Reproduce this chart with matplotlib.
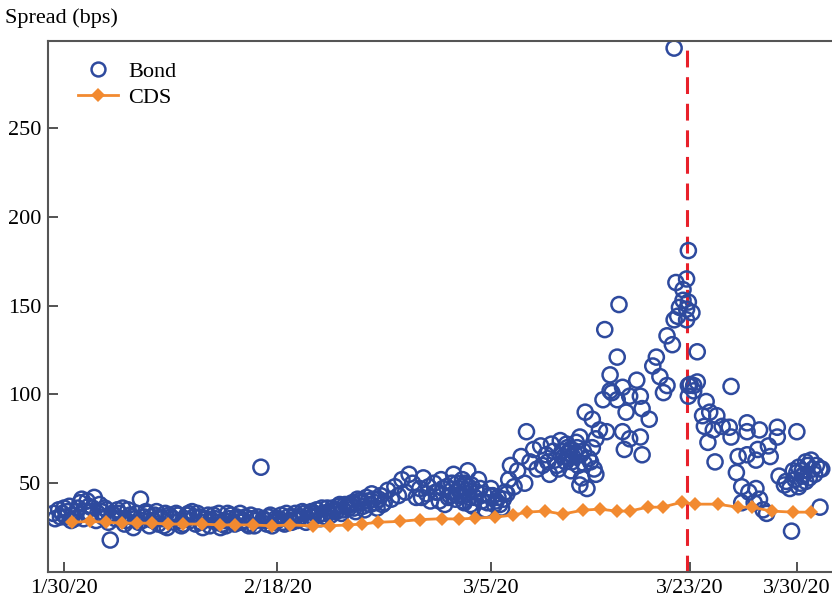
import matplotlib
matplotlib.use("Agg")
import matplotlib.pyplot as plt
from matplotlib.lines import Line2D

plt.rcParams["font.family"] = ["Liberation Serif", "DejaVu Serif"]

# x positions are in trading-day units from 1/30/20 (as laid out on the chart)
tick_pos = [0, 12, 24, 35.2, 41.2]
tick_labels = ["1/30/20", "2/18/20", "3/5/20", "3/23/20", "3/30/20"]
event_day = 35.0

cds_x = [0.45, 1.46, 2.36, 3.26, 4.1, 4.94, 5.84, 6.69, 7.75, 8.76, 9.6, 10.62,
         11.69, 12.7, 13.99, 14.94, 15.96, 16.74, 17.64, 18.88, 20.0, 21.24,
         22.19, 23.09, 24.21, 25.22, 26.01, 27.02, 28.03, 29.16, 30.11, 31.07,
         31.8, 32.81, 33.65, 34.72, 35.45, 36.74, 37.87, 38.65, 39.78, 40.96, 42.02]
cds_y = [28, 28.5, 28, 27.5, 27.5, 27.5, 27, 27, 27, 26.5, 26.5, 26.5,
         26, 26.5, 26, 26, 26.5, 27, 28, 28.5, 29.5, 30,
         29.8, 30.3, 30.9, 32, 33.7, 34.3, 32.6, 34.8, 35.4, 34.3,
         34.3, 36.5, 36.5, 39.3, 38.2, 38.2, 36.5, 36.5, 34.3, 33.7, 33.7]

bond_x = [
    -0.6, -0.3, -0.2, 0.0, 0.1, 0.3, 0.4,
    0.7, 0.9, 1.0, 1.1, 1.2, 1.3, 1.5, 1.6, 1.7, 1.8,
    2.0, 2.1, 2.2, 2.3, 2.5, 2.6, 2.7, 2.9,
    3.0, 3.2, 3.4, 3.6, 3.8, 3.9,
    4.1, 4.3, 4.4, 4.6, 4.8, 4.9,
    5.1, 5.3, 5.5, 5.7, 5.8,
    6.0, 6.2, 6.4, 6.6, 6.8,
    7.0, 7.2, 7.4, 7.6, 7.8,
    8.0, 8.2, 8.4, 8.6, 8.8,
    9.0, 9.2, 9.4, 9.6, 9.8,
    10.0, 10.2, 10.4, 10.6, 10.8,
    11.07, 11.2, 11.4, 11.6, 11.8,
    12.0, 12.2, 12.4, 12.6, 12.8,
    13.0, 13.2, 13.4, 13.6, 13.8,
    14.0, 14.2, 14.4, 14.6, 14.8,
    15.0, 15.2, 15.4, 15.6, 15.8,
    16.0, 16.2, 16.4, 16.6, 16.8,
    17.0, 17.2, 17.4, 17.6, 17.8,
    18.0, 18.2, 18.4, 18.6, 18.8,
    19.0, 19.2, 19.4, 19.6, 19.8,
    20.0, 20.2, 20.4, 20.6, 20.8,
    21.0, 21.2, 21.4, 21.5, 21.7, 21.9,
    22.0, 22.1, 22.2, 22.3, 22.4, 22.5, 22.6, 22.7, 22.8, 22.9,
    23.0, 23.2, 23.3, 23.5, 23.7, 23.9,
    24.0, 24.2, 24.4, 24.6, 24.8,
    25.0, 25.1, 25.3, 25.5, 25.7, 25.9,
    26.0, 26.2, 26.4, 26.6, 26.8, 26.9,
    27.1, 27.3, 27.4, 27.6, 27.8, 27.9,
    28.0, 28.2, 28.3, 28.4, 28.5, 28.6, 28.8, 28.9,
    29.0, 29.1, 29.3, 29.4, 29.5, 29.7, 29.8, 29.6, 29.2, 29.9, 29.0,
    29.7, 30.1, 30.5, 29.9,
    30.4, 31.2, 31.1, 30.7, 30.7, 30.3,
    30.8, 31.1, 31.4, 31.8, 32.2, 32.4, 32.5, 32.9, 31.6,
    31.4, 31.8, 31.5, 32.4, 32.5,
    33.1, 33.3, 33.5, 33.7, 33.9, 33.9, 34.2,
    34.3, 34.5, 34.6, 34.8, 35.0,
    34.4, 34.8, 35.0, 35.1, 35.0, 35.3,
    35.1, 34.3, 35.6, 35.1, 35.4,
    35.2, 35.6, 35.4, 35.1, 37.5, 36.1,
    35.9, 36.3, 36.7, 36.0, 36.5, 36.2,
    37.0, 37.4, 37.5, 38.4, 38.4, 39.1, 40.1, 40.1, 41.2,
    36.6, 37.9, 37.8, 38.4, 39.0, 39.6, 39.7, 38.9,
    38.1, 38.5, 38.9, 39.1, 38.1, 38.8, 39.3, 39.5,
    40.2, 40.6, 40.8, 41.2, 41.5, 41.7, 42.1, 42.5, 41.3, 41.7, 41.1,
    42.5, 40.9, 42.6, 42.0, 41.8, 42.2, 41.4, 40.5, 41.0,
]
bond_y = [
    33, 35, 31, 36, 31, 37, 29,
    34, 39, 41, 30, 34, 40, 32, 36, 42, 29,
    38, 34, 31, 36, 28, 18, 33, 30,
    35, 30, 27, 35, 31, 25,
    33, 41, 29, 34, 26, 31,
    32, 27, 30, 33, 25,
    31, 28, 32, 26, 30,
    33, 34, 27, 31, 25,
    30, 26, 32, 28, 25,
    29, 33, 32, 27, 30,
    28, 31, 26, 30, 29,
    59, 30, 27, 32, 28,
    29, 32, 27, 31, 28,
    33, 30, 34, 28, 32,
    31, 35, 30, 33, 36,
    32, 35, 37, 33, 38,
    36, 39, 34, 40, 37,
    42, 38, 41, 36, 43,
    39, 46, 41, 48, 43,
    52, 45, 55, 50, 42,
    47, 53, 44, 40, 50,
    45, 52, 38, 48, 43, 55,
    41, 50, 47, 44, 52, 39, 46, 57, 42, 49,
    37, 45, 52, 40, 35, 43,
    47, 38, 42, 36, 45,
    52, 60, 48, 57, 65, 50,
    79, 62, 69, 58, 71, 60,
    66, 55, 72, 63, 58, 74,
    68, 62, 70, 67, 57, 65, 73, 60,
    76, 53, 90, 47, 64, 70, 58, 62, 68, 55, 49,
    86, 80, 79, 75,
    136.5, 150.6, 121, 111, 102, 97,
    101, 97, 104, 99, 108, 99, 92, 86, 90,
    79, 75, 69, 76, 66,
    116, 121, 110, 101, 105, 133, 128,
    142, 144, 149, 153, 142,
    163, 159, 165, 152, 148, 146,
    181, 295, 124, 105, 105,
    105.6, 107, 102, 99, 104.5, 96,
    88, 90, 88, 82, 80, 73,
    82, 81.5, 76, 84, 79, 80, 81.5, 76, 79,
    62, 65, 56, 66, 69, 71, 65, 63,
    48, 45, 47, 41, 39, 39, 35, 33,
    54, 51, 47, 56, 54, 62, 58, 58, 48, 51, 52,
    36.5, 23, 58, 63, 60, 55, 50, 49, 57,
]

# extra bonds in the densest parts of the cloud
dense_x = [
    -0.5, -0.1, 0.2, 0.5, 0.6, 0.8, 1.4, 1.9, 2.4, 2.8, 3.1, 3.3, 3.5, 3.7,
    4.0, 4.2, 4.5, 4.7, 5.0, 5.2, 5.4, 5.6, 5.9, 6.1, 6.3, 6.5, 6.7, 6.9,
    7.1, 7.3, 7.5, 7.7, 7.9, 8.1, 8.3, 8.5, 8.7, 8.9, 9.1, 9.3, 9.5, 9.7,
    9.9, 10.1, 10.3, 10.5, 10.7, 10.9, 11.3, 11.5, 11.7, 11.9, 12.1, 12.3,
    12.5, 12.7, 12.9, 13.1, 13.3, 13.5, 13.7, 13.9, 14.1, 14.3, 14.5, 14.7,
    14.9, 15.1, 15.3, 15.5, 15.7, 15.9, 16.1, 16.3, 16.5, 16.7, 16.9, 17.1,
    17.3, 17.5, 17.7, 17.9,
    20.1, 20.5, 20.9, 21.1, 21.3, 21.6, 21.8, 22.05, 22.15, 22.35, 22.45,
    22.55, 22.65, 22.75, 22.85, 23.1, 23.4, 23.6, 23.8, 24.1, 24.3, 24.5,
    24.7, 24.9,
    27.2, 27.5, 27.7, 28.1, 28.25, 28.35, 28.45, 28.55, 28.7, 28.85, 29.05,
    29.25,
    41.5, 41.9, 41.6, 41.3, 42.3,
]
dense_y = [
    30, 33, 34, 32, 30, 36, 37, 33, 35, 32, 33, 36, 29, 32,
    30, 28, 31, 33, 29, 34, 31, 26, 32, 30, 33, 29, 27, 32,
    29, 31, 33, 28, 30, 32, 29, 30, 33, 27, 26, 30, 28, 31,
    33, 29, 27, 32, 26, 31, 29, 31, 26, 30, 30, 28,
    33, 29, 31, 29, 31, 33, 30, 34, 33, 32, 36, 31,
    34, 36, 34, 38, 35, 37, 38, 36, 41, 39, 35, 40,
    44, 39, 41, 38,
    42, 48, 45, 40, 47, 42, 50, 45, 43, 48, 40,
    50, 44, 48, 38, 42, 47, 44, 39, 43, 40, 38,
    41, 44,
    62, 68, 60, 65, 72, 64, 69, 62, 67, 70, 66,
    61,
    57, 53, 55, 59, 60,
]

blue = "#2e4a9e"
orange = "#f28a30"

fig = plt.figure(figsize=(8.32, 6.01), dpi=100)
ax = fig.add_axes([48 / 832, 29 / 601, 788 / 832, 531 / 601])

ax.plot([event_day, event_day], [0, 294], color="#e8202a", lw=2.2,
        dashes=(5.5, 3.2), zorder=1)
ax.scatter(bond_x + dense_x, bond_y + dense_y, s=118, facecolors="none",
           edgecolors=blue, linewidths=1.8, zorder=2)
ax.plot(cds_x, cds_y, color=orange, lw=2, marker="D", ms=7.5,
        markeredgewidth=0, zorder=3)

ax.set_xlim(-0.9, 43.4)
ax.set_ylim(0, 299)
ax.set_xticks(tick_pos)
ax.set_xticklabels(tick_labels)
ax.set_yticks([50, 100, 150, 200, 250])
ax.tick_params(direction="in", length=7, width=1.3, colors="#444444",
               labelcolor="black", labelsize=16, pad=5)

for side in ["left", "bottom", "top"]:
    ax.spines[side].set_color("#555555")
    ax.spines[side].set_linewidth(1.5)
ax.spines["right"].set_visible(False)

fig.text(5 / 832, 1 - 18 / 601, "Spread (bps)", fontsize=16, va="center",
         ha="left")

handles = [
    Line2D([], [], ls="none", marker="o", ms=10, mfc="none", mec=blue, mew=1.8),
    Line2D([], [], color=orange, lw=2, marker="D", ms=7.5, mew=0),
]
ax.legend(handles, ["Bond", "CDS"], loc="upper left", frameon=False,
          fontsize=16, bbox_to_anchor=(0.038, 0.962), borderaxespad=0,
          borderpad=0, handlelength=1.8, handletextpad=0.45, labelspacing=0.25)

fig.savefig("out.png", dpi=100)
